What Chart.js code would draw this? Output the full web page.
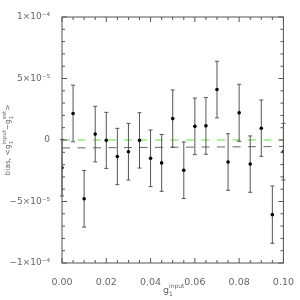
<!DOCTYPE html>
<html lang="en">
<head>
<meta charset="UTF-8">
<title>Shear bias vs input g1</title>
<script src="https://cdn.jsdelivr.net/npm/chart.js@4.4.1/dist/chart.umd.min.js"></script>
<style>
  html, body { margin: 0; padding: 0; background: #fff; }
</style>
</head>
<body>
<canvas id="biasChart" width="300" height="300"></canvas>
<script>
// input shear g1 for each measurement
const g1Input = [0.000, 0.005, 0.010, 0.015, 0.020, 0.025, 0.030, 0.035, 0.040, 0.045, 0.050,
                 0.055, 0.060, 0.065, 0.070, 0.075, 0.080, 0.085, 0.090, 0.095, 0.100];
// bias <g1_input - g1_est>
const bias = [-22.5e-6, 21.6e-6, -47.8e-6, 4.8e-6, -0.3e-6, -13.4e-6, -9.5e-6, -0.3e-6, -14.9e-6, -18.6e-6, 17.4e-6,
              -24.6e-6, 11.1e-6, 11.5e-6, 41.0e-6, -17.9e-6, 22.1e-6, -19.6e-6, 9.6e-6, -60.7e-6, -9.5e-6];
// 1-sigma error on each bias
const biasErr = [23e-6, 23e-6, 23e-6, 22.6e-6, 22.8e-6, 22.9e-6, 23e-6, 22.5e-6, 23e-6, 23.1e-6, 23.3e-6,
                 23e-6, 23e-6, 23.1e-6, 23e-6, 23e-6, 23.2e-6, 22.9e-6, 22.9e-6, 23.3e-6, 23e-6];
// reference zero line and fitted mean line (end points)
const lineX = [0.0, 0.1];
const zeroLine = [0, 0];
const fitLine = [-6.5e-6, -5.3e-6];
// labelled ticks
const xTickValues = [0.00, 0.02, 0.04, 0.06, 0.08, 0.10];
const xTickLabels = ['0.00', '0.02', '0.04', '0.06', '0.08', '0.10'];
const yTickValues = [-1e-4, -5e-5, 0, 5e-5, 1e-4];
const yTickLabels = ['\u22121\u00d710\u207b\u2074', '\u22125\u00d710\u207b\u2075', '0', '5\u00d710\u207b\u2075', '1\u00d710\u207b\u2074'];

const ink = '#555';
const textInk = '#666';
const fontFam = '"DejaVu Sans", sans-serif';

function findLabel(values, labels, v, tol) {
  for (let i = 0; i < values.length; i++) {
    if (Math.abs(values[i] - v) < tol) return labels[i];
  }
  return '';
}

// error bars, frame with inward ticks, axis titles
const idlStyle = {
  id: 'idlStyle',
  beforeDatasetDraw(chart, args) {
    if (args.index !== 0) return;
    const ctx = chart.ctx, xs = chart.scales.x, ys = chart.scales.y;
    ctx.save();
    ctx.strokeStyle = ink;
    ctx.lineWidth = 1;
    for (let i = 0; i < g1Input.length; i++) {
      const px = xs.getPixelForValue(g1Input[i]);
      const top = ys.getPixelForValue(bias[i] + biasErr[i]);
      const bot = ys.getPixelForValue(bias[i] - biasErr[i]);
      ctx.beginPath();
      ctx.moveTo(px, top); ctx.lineTo(px, bot);
      ctx.moveTo(px - 2, top); ctx.lineTo(px + 2, top);
      ctx.moveTo(px - 2, bot); ctx.lineTo(px + 2, bot);
      ctx.stroke();
    }
    ctx.restore();
  },
  afterDraw(chart) {
    const ctx = chart.ctx, a = chart.chartArea;
    const xs = chart.scales.x, ys = chart.scales.y;
    ctx.save();
    ctx.strokeStyle = ink;
    ctx.lineWidth = 1;
    ctx.strokeRect(a.left, a.top, a.right - a.left, a.bottom - a.top);
    ctx.beginPath();
    xs.ticks.forEach(t => {
      const px = xs.getPixelForValue(t.value);
      const len = findLabel(xTickValues, xTickLabels, t.value, 1e-6) ? 5 : 3;
      ctx.moveTo(px, a.bottom); ctx.lineTo(px, a.bottom - len);
      ctx.moveTo(px, a.top); ctx.lineTo(px, a.top + len);
    });
    ys.ticks.forEach(t => {
      const py = ys.getPixelForValue(t.value);
      const len = findLabel(yTickValues, yTickLabels, t.value, 1e-9) ? 5 : 3;
      ctx.moveTo(a.left, py); ctx.lineTo(a.left + len, py);
      ctx.moveTo(a.right, py); ctx.lineTo(a.right - len, py);
    });
    ctx.stroke();

    // x title: g with sub 1 and sup input
    ctx.fillStyle = textInk;
    ctx.textBaseline = 'alphabetic';
    ctx.textAlign = 'left';
    const xc = (a.left + a.right) / 2;
    ctx.font = '9.5px ' + fontFam;
    const gW = ctx.measureText('g').width;
    ctx.font = '6px ' + fontFam;
    const supW = ctx.measureText('input').width;
    let x0 = xc - (gW + supW) / 2 + 1;
    ctx.font = '9.5px ' + fontFam;
    ctx.fillText('g', x0, 293);
    ctx.font = '6px ' + fontFam;
    ctx.fillText('1', x0 + gW, 296);
    ctx.fillText('input', x0 + gW, 288);

    // y title, rotated
    ctx.translate(10, (a.top + a.bottom) / 2);
    ctx.rotate(-Math.PI / 2);
    const parts = [
      ['bias, <g', 0, 7.5], ['1', 3, 5.5, 'input', -4], ['\u2212g', 0, 7.5], ['1', 3, 5.5, 'est', -4], ['>', 0, 7.5]
    ];
    let total = 0;
    parts.forEach(p => {
      ctx.font = p[2] + 'px ' + fontFam;
      let w = ctx.measureText(p[0]).width;
      if (p[3]) w = Math.max(w, ctx.measureText(p[3]).width);
      p.push(w);
      total += w;
    });
    let cx = -total / 2;
    parts.forEach(p => {
      ctx.font = p[2] + 'px ' + fontFam;
      ctx.fillText(p[0], cx, p[1]);
      if (p[3]) ctx.fillText(p[3], cx, p[4]);
      cx += p[p.length - 1];
    });
    ctx.restore();
  }
};

const ctx = document.getElementById('biasChart').getContext('2d');
new Chart(ctx, {
  type: 'scatter',
  data: {
    datasets: [
      {
        label: 'bias',
        data: g1Input.map((g, i) => ({ x: g, y: bias[i] })),
        backgroundColor: '#000',
        borderColor: '#000',
        pointRadius: 1.8,
        pointBorderWidth: 0
      },
      {
        label: 'mean',
        type: 'line',
        data: lineX.map((g, i) => ({ x: g, y: fitLine[i] })),
        borderColor: '#666',
        borderWidth: 1,
        borderDash: [8, 7.5],
        pointRadius: 0
      },
      {
        label: 'zero',
        type: 'line',
        data: lineX.map((g, i) => ({ x: g, y: zeroLine[i] })),
        borderColor: '#aef0a0',
        borderWidth: 2,
        borderDash: [8, 7.5],
        pointRadius: 0
      }
    ]
  },
  options: {
    responsive: false,
    animation: false,
    layout: { padding: { top: 17, right: 12, left: 0, bottom: 0 } },
    plugins: { legend: { display: false }, tooltip: { enabled: false } },
    scales: {
      x: {
        type: 'linear',
        min: 0, max: 0.1,
        grid: { display: false },
        border: { display: false },
        ticks: {
          stepSize: 0.005,
          autoSkip: false,
          maxRotation: 0,
          padding: 6,
          color: textInk,
          font: { family: fontFam, size: 9.5 },
          callback: v => findLabel(xTickValues, xTickLabels, v, 1e-6)
        },
        afterFit: s => { s.height = 37; }
      },
      y: {
        type: 'linear',
        min: -1e-4, max: 1e-4,
        grid: { display: false },
        border: { display: false },
        ticks: {
          stepSize: 1e-5,
          autoSkip: false,
          padding: 4,
          color: textInk,
          font: { family: fontFam, size: 9 },
          callback: v => findLabel(yTickValues, yTickLabels, v, 1e-9)
        },
        afterFit: s => { s.width = 62; }
      }
    }
  },
  plugins: [idlStyle]
});
</script>
</body>
</html>
